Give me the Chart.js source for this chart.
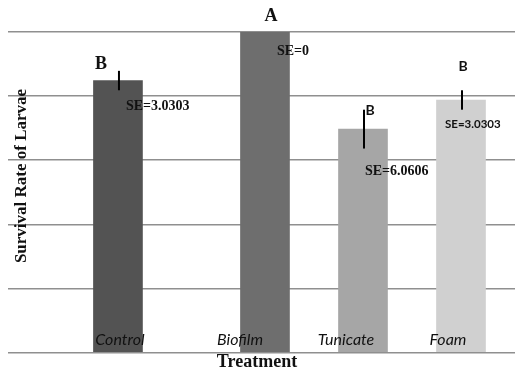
<!DOCTYPE html>
<html>
<head>
<meta charset="utf-8">
<script src="https://cdn.jsdelivr.net/npm/chart.js@4"></script>
<style>
  html, body { margin: 0; background: #fff; }
</style>
</head>
<body>
<canvas id="chart" width="515" height="370"></canvas>
<script>
const treatments = ['Control', 'Biofilm', 'Tunicate', 'Foam'];
const survival = [84.85, 100, 69.7, 78.79];
const standardErrors = [3.0303, 0, 6.0606, 3.0303];
const groupLetters = ['B', 'A', 'B', 'B'];
const barSlots = [0.5, 2, 3, 4];

const BAR_COLORS = ['#535353', '#6e6e6e', '#a6a6a6', '#d0d0d0'];
const GRID_COLOR = '#8f8f8f';
const TEXT_COLOR = '#111';
const SERIF = '"Liberation Serif", serif';
const SANS = 'Lato, "Open Sans", sans-serif';

// the notes were placed by hand in the original, so offsets are per bar (px from bar center / top)
const letterNotes = [
  { dx: -17, dy: -16, font: `bold 18px ${SERIF}` },
  { dx: 6, dy: -16, font: `bold 18px ${SERIF}` },
  { dx: 7, dy: -19, font: `bold 14px ${SANS}` },
  { dx: 2, dy: -33, font: `bold 14px ${SANS}` },
];
const seNotes = [
  { dx: 8, dy: 26, font: `bold 14px ${SERIF}` },
  { dx: 12, dy: 19, font: `bold 14px ${SERIF}` },
  { dx: 2, dy: 42, font: `bold 14px ${SERIF}` },
  { dx: -16, dy: 24, font: `bold 11.5px ${SANS}` },
];
const labelShift = [2, -25, -17, -13];

const notesPlugin = {
  id: 'notes',
  afterDatasetsDraw(chart) {
    const { ctx, chartArea, scales } = chart;
    const meta = chart.getDatasetMeta(0);
    ctx.save();
    ctx.fillStyle = TEXT_COLOR;
    ctx.strokeStyle = '#000';

    meta.data.forEach((bar, i) => {
      const cx = bar.x;
      const top = bar.y;

      if (standardErrors[i] > 0) {
        ctx.lineWidth = 2;
        ctx.beginPath();
        ctx.moveTo(cx + 1, scales.y.getPixelForValue(survival[i] + standardErrors[i]));
        ctx.lineTo(cx + 1, scales.y.getPixelForValue(survival[i] - standardErrors[i]));
        ctx.stroke();
      }

      const ln = letterNotes[i];
      ctx.font = ln.font;
      ctx.textAlign = 'center';
      ctx.textBaseline = 'middle';
      ctx.fillText(groupLetters[i], cx + ln.dx, top + ln.dy);

      const sn = seNotes[i];
      ctx.font = sn.font;
      ctx.textAlign = 'left';
      ctx.fillText('SE=' + standardErrors[i], cx + sn.dx, top + sn.dy);

      ctx.font = `italic 16px ${SANS}`;
      ctx.textAlign = 'center';
      ctx.fillText(treatments[i], cx + labelShift[i], chartArea.bottom - 13);
    });

    ctx.font = `bold 18px ${SERIF}`;
    ctx.textAlign = 'center';
    ctx.fillText('Treatment', 257, chartArea.bottom + 10);

    ctx.translate(22, 176);
    ctx.rotate(-Math.PI / 2);
    ctx.font = `bold 17px ${SERIF}`;
    ctx.fillText('Survival Rate of Larvae', 0, 0);
    ctx.restore();
  },
};

new Chart(document.getElementById('chart'), {
  type: 'bar',
  data: {
    datasets: [
      {
        data: barSlots.map((x, i) => ({ x, y: survival[i] })),
        backgroundColor: BAR_COLORS,
        borderWidth: 0,
        barThickness: 49,
      },
    ],
  },
  options: {
    responsive: false,
    animation: false,
    layout: { padding: { top: 32, bottom: 17.5, left: 8, right: 0 } },
    scales: {
      x: { type: 'linear', min: -0.622, max: 4.551, offset: false, display: false },
      y: {
        min: 0,
        max: 100,
        ticks: { display: false, stepSize: 20 },
        grid: { color: GRID_COLOR, lineWidth: 1.5, drawTicks: false },
        border: { display: false },
      },
    },
    plugins: {
      legend: { display: false },
      tooltip: { enabled: false },
    },
  },
  plugins: [notesPlugin],
});
</script>
</body>
</html>
